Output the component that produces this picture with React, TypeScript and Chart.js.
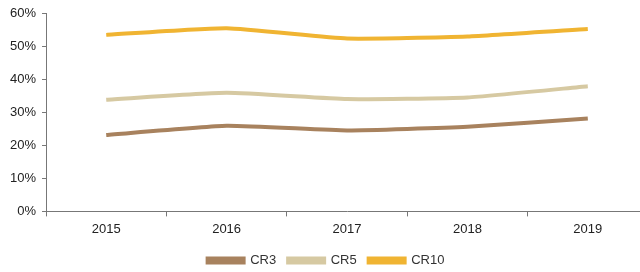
import React, { useEffect, useRef } from "react";
import { Chart, registerables } from "chart.js";

Chart.register(...registerables);

const categories = ["2015", "2016", "2017", "2018", "2019"];
const cr3 = [23.2, 26.0, 24.6, 25.7, 28.2];
const cr5 = [33.9, 36.0, 34.1, 34.6, 38.0];
const cr10 = [53.6, 55.6, 52.5, 53.1, 55.4];
const yTicks = [0, 10, 20, 30, 40, 50, 60];

const seriesNames = ["CR3", "CR5", "CR10"];
const seriesColors = ["#A8825E", "#D6C9A2", "#F0B432"];

export default function App() {
  const ref = useRef<HTMLCanvasElement | null>(null);
  useEffect(() => {
    document.body.style.margin = "0";
    const ctx = ref.current!;
    const data = [cr3, cr5, cr10];
    const chart = new Chart(ctx, {
      type: "line",
      data: {
        labels: categories,
        datasets: data.map((d, i) => ({
          label: seriesNames[i],
          data: d,
          borderColor: seriesColors[i],
          backgroundColor: seriesColors[i],
          borderWidth: 4,
          pointRadius: 0,
          tension: 0.15,
          fill: false,
        })),
      },
      options: {
        animation: false,
        responsive: false,
        maintainAspectRatio: false,
        layout: { padding: { top: 6, left: 4, right: 0, bottom: 0 } },
        plugins: {
          tooltip: { enabled: false },
          legend: {
            position: "bottom",
            labels: {
              boxWidth: 36,
              boxHeight: 4,
              color: "#333",
              font: { family: "Liberation Sans, Arial", size: 13 },
              padding: 12,
            },
          },
        },
        scales: {
          x: {
            offset: true,
            grid: {
              offset: true,
              drawOnChartArea: false,
              drawTicks: true,
              tickLength: 5,
              color: "#777",
            },
            border: { color: "#777", width: 1 },
            ticks: {
              color: "#222",
              font: { family: "Liberation Sans, Arial", size: 13 },
              padding: 5,
              maxRotation: 0,
            },
          },
          y: {
            min: 0,
            max: 60,
            afterBuildTicks: (axis: any) => {
              axis.ticks = yTicks.map((v) => ({ value: v }));
            },
            grid: {
              drawOnChartArea: false,
              drawTicks: true,
              tickLength: 4,
              color: "#777",
            },
            border: { color: "#777", width: 1 },
            ticks: {
              color: "#222",
              font: { family: "Liberation Sans, Arial", size: 13 },
              padding: 6,
              callback: (v: any) => v + "%",
            },
          },
        },
      },
    });
    return () => chart.destroy();
  }, []);
  return (
    <div style={{ width: 640, height: 272, overflow: "hidden" }}>
      <canvas ref={ref} width={648} height={277} style={{ display: "block" }} />
    </div>
  );
}
